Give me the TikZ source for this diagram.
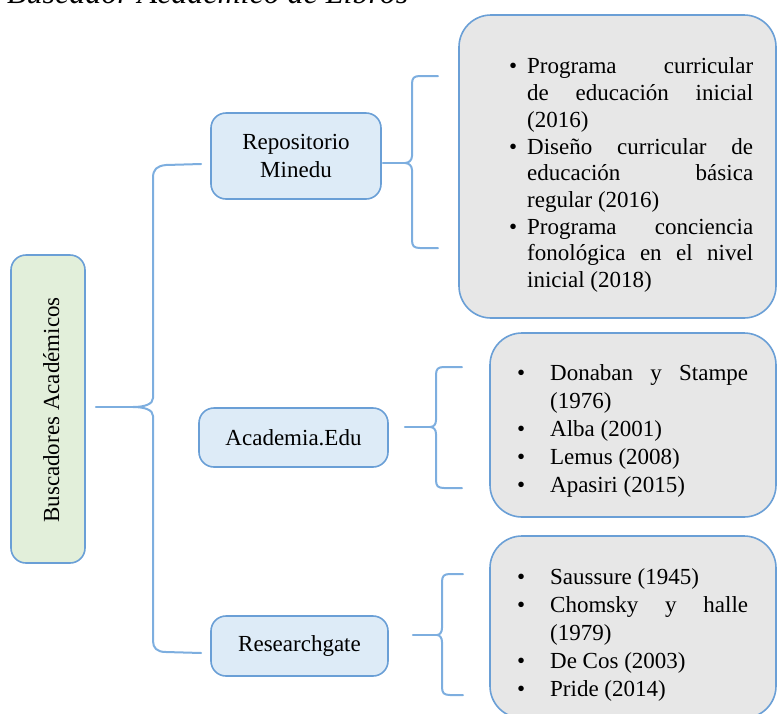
\documentclass[tikz,border=0pt]{standalone}
\usepackage{fontspec}
\setmainfont{Liberation Serif}
\usepackage{graphicx}
\usetikzlibrary{calc}
\hyphenpenalty=10000
\exhyphenpenalty=10000
\hbadness=10000
\definecolor{bord}{HTML}{6A9FD6}
\definecolor{brcol}{HTML}{7DAEDF}
\definecolor{bluef}{HTML}{DDEBF7}
\definecolor{greenf}{HTML}{E2EFDA}
\definecolor{grayf}{HTML}{E7E7E7}
\newcommand{\bitem}[2]{\par\hangindent=#1\hangafter=1\noindent\hbox to #1{\hss\textbullet\hskip#2}\ignorespaces}
\newcommand{\jset}{\rightskip=0pt\leftskip=0pt\parfillskip=0pt plus 1fil\parindent=0pt\spaceskip=.25em plus 2em minus .08em\relax}
\newenvironment{jbox}[1]{\begin{minipage}[t]{#1}\jset}{\par\end{minipage}}
\begin{document}
\begin{tikzpicture}[x=1pt,y=-1pt,
  box/.style={draw=bord, line width=1.6pt, rounded corners=15pt, inner sep=0pt, font=\fontsize{23}{28}\selectfont},
  leaf/.style={draw=bord, line width=1.6pt, rounded corners=32pt, fill=grayf, inner sep=0pt},
  brc/.style={draw=brcol, line width=2pt, line cap=round, line join=round},
  ltxt/.style={anchor=north west, inner sep=0pt},
]
\useasboundingbox (0,0) rectangle (777,713);
\clip (0,0) rectangle (777,713);

% title (cut off at the top)
\node[anchor=base west, inner sep=0pt] (title) at (7,3) 
  {\resizebox{401pt}{!}{\fontsize{30}{34}\selectfont\itshape Buscador Académico de Libros}};

% root
\node[box, fill=greenf, minimum width=74pt, minimum height=308pt] (root) at (48,409) {};
\node[rotate=90, anchor=base, inner sep=0pt, font=\fontsize{23}{28}\selectfont] (rootlbl) at (59,410) {Buscadores Académicos};

% second level
\node[box, fill=bluef, minimum width=170pt, minimum height=86pt, align=center] (repo) at (296,156) {Repositorio\\Minedu};
\node[box, fill=bluef, minimum width=189pt, minimum height=59pt] (acad) at (293.5,437.5) {Academia.Edu};
\node[box, fill=bluef, minimum width=177pt, minimum height=60pt] (rg) at (299.5,646) {Researchgate};

% leaves
\node[leaf, minimum width=317pt, minimum height=303pt] (L1) at (617.5,166.5) {};
\node[leaf, minimum width=286pt, minimum height=184pt] (L2) at (633,425) {};
\node[leaf, minimum width=286pt, minimum height=182pt] (L3) at (633,627) {};

\node[ltxt, font=\fontsize{23}{26.7}\selectfont] (T1) at (500,53.7) {\begin{jbox}{253pt}%
\bitem{27pt}{10pt}\rule{0pt}{20pt}Programa curricular \linebreak de educación inicial \linebreak (2016)
\bitem{27pt}{10pt}Diseño curricular de \linebreak educación básica \linebreak regular (2016)
\bitem{27pt}{10pt}Programa conciencia \linebreak fonológica en el nivel \linebreak inicial (2018)
\end{jbox}};

\node[ltxt, font=\fontsize{23}{28}\selectfont] (T2) at (500,360) {\begin{jbox}{248pt}%
\bitem{50pt}{25pt}\rule{0pt}{20pt}Donaban y Stampe \linebreak (1976)
\bitem{50pt}{25pt}Alba (2001)
\bitem{50pt}{25pt}Lemus (2008)
\bitem{50pt}{25pt}Apasiri (2015)
\end{jbox}};

\node[ltxt, font=\fontsize{23}{28}\selectfont] (T3) at (500,564) {\begin{jbox}{248pt}%
\bitem{50pt}{25pt}\rule{0pt}{20pt}Saussure (1945)
\bitem{50pt}{25pt}Chomsky y halle \linebreak (1979)
\bitem{50pt}{25pt}De Cos (2003)
\bitem{50pt}{25pt}Pride (2014)
\end{jbox}};

% main brace
\coordinate (c0) at (133,407);
\coordinate (b0t) at ($(repo.west)+(-9,8)$);
\coordinate (b0b) at ($(rg.west)+(-9,7)$);
\draw[brc] ($(root.east)+(10,-2)$) -- (c0);
\draw[brc] (b0t) -- (166,165) .. controls (157,166) and (153,169) .. (153,178) -- (153,398)
  .. controls (153,404) and (145,407) .. (c0) .. controls (145,407) and (153,410) .. (153,416)
  -- (153,641) .. controls (153,648) and (157,652) .. (166,652) -- (b0b);

% brace to L1
\coordinate (c1) at (405,163);
\draw[brc] ($(repo.east)+(1,7)$) -- (c1);
\draw[brc] (438,76) -- (420,76) .. controls (414,76) and (412,78) .. (412,84) -- (412,156)
  .. controls (412,160) and (409,163) .. (c1) .. controls (409,163) and (412,166) .. (412,170)
  -- (412,240) .. controls (412,246) and (414,248) .. (420,248) -- (438,248);

% brace to L2
\coordinate (c2) at (430,427);
\draw[brc] ($(acad.east)+(16,-10.5)$) -- (c2);
\draw[brc] (462,367) -- (444,367) .. controls (438,367) and (436,369) .. (436,375) -- (436,420)
  .. controls (436,424) and (434,427) .. (c2) .. controls (434,427) and (436,430) .. (436,434)
  -- (436,480) .. controls (436,486) and (438,488) .. (444,488) -- (462,488);

% brace to L3
\coordinate (c3) at (437,635);
\draw[brc] ($(rg.east)+(24,-11)$) -- (c3);
\draw[brc] (463,574) -- (450,574) .. controls (444,574) and (442,576) .. (442,582) -- (442,628)
  .. controls (442,632) and (440,635) .. (c3) .. controls (440,635) and (442,638) .. (442,642)
  -- (442,687) .. controls (442,693) and (444,695) .. (450,695) -- (463,695);
\end{tikzpicture}
\end{document}
